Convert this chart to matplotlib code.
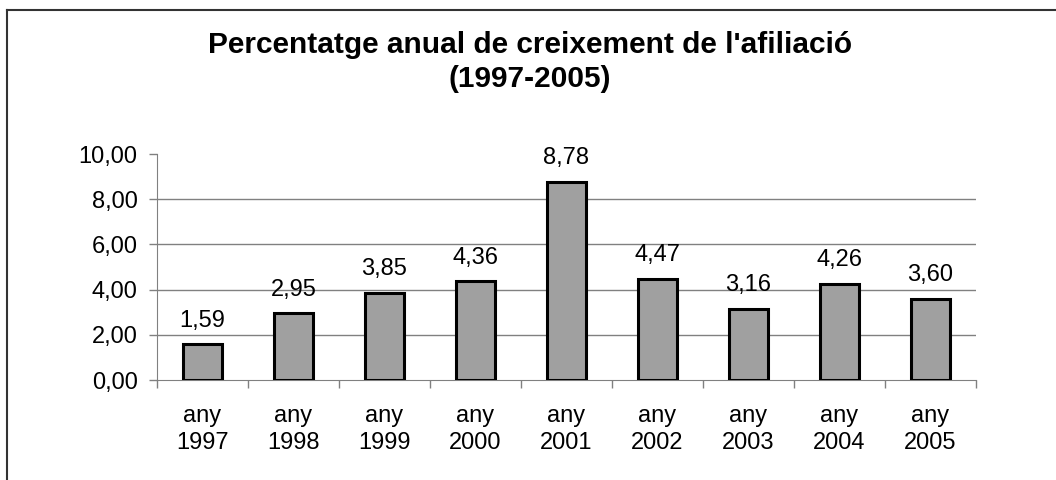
import numpy as np
import matplotlib.pyplot as plt
from matplotlib.lines import Line2D

years = ["1997", "1998", "1999", "2000", "2001", "2002", "2003", "2004", "2005"]
values = [1.59, 2.95, 3.85, 4.36, 8.78, 4.47, 3.16, 4.26, 3.60]
yticks = [0, 2, 4, 6, 8, 10]

plt.rcParams["font.family"] = ["Liberation Sans", "DejaVu Sans"]

fig = plt.figure(figsize=(10.56, 4.8), dpi=100)
ax = fig.add_axes([157/1056, 1-380/480, (976-157)/1056, (380-154)/480])

x = np.arange(len(years))
ax.bar(x, values, width=0.42, color="#a0a0a0", edgecolor="black", linewidth=2.2, zorder=3)

for xi, v in zip(x, values):
    ax.annotate(("%.2f" % v).replace(".", ","), (xi, v), xytext=(0, 9),
                textcoords="offset points", ha="center", va="bottom", fontsize=17)

ax.set_xlim(-0.5, len(years) - 0.5)
ax.set_ylim(0, 10)
ax.set_yticks(yticks)
ax.set_yticklabels([("%.2f" % t).replace(".", ",") for t in yticks], fontsize=17)
ax.set_xticks(x)
ax.set_xticklabels(["any\n" + y for y in years], fontsize=17, linespacing=1.3)
ax.set_xticks(np.arange(len(years) + 1) - 0.5, minor=True)
ax.tick_params(axis="x", which="major", length=0, pad=18)
ax.tick_params(axis="x", which="minor", length=6, color="#808080", width=1, direction="out")
ax.tick_params(axis="y", length=6, color="#808080", width=1, direction="out", pad=8)

for t in yticks[1:-1]:
    ax.axhline(t, color="#808080", linewidth=1, zorder=1)

for s in ["top", "right"]:
    ax.spines[s].set_visible(False)
ax.spines["left"].set_color("#808080")
ax.spines["bottom"].set_color("#808080")

fig.text(530/1056, 1-62/480, "Percentatge anual de creixement de l'afiliació\n(1997-2005)",
         ha="center", va="center", fontsize=21.5, fontweight="bold", linespacing=1.3)

# frame around the chart (top and left edges visible)
fig.add_artist(Line2D([7/1056, 7/1056], [0, 1-10/480], color="#333333", linewidth=1.5))
fig.add_artist(Line2D([7/1056, 1], [1-10/480, 1-10/480], color="#333333", linewidth=1.5))

fig.savefig("out.png", dpi=100)
